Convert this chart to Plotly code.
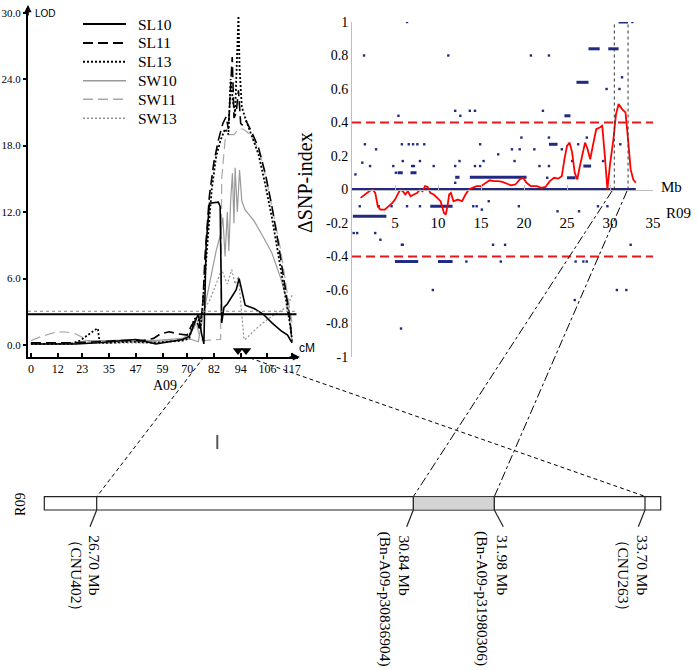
import plotly.graph_objects as go

# ---------------- data: LOD curves (cM, LOD) ----------------
sl10_cm = [0, 10, 20, 30, 40, 47, 52, 56, 62, 68, 71, 73, 75, 76.5, 77.5, 78.5, 80, 84, 84.8, 85.5, 86.5, 88, 90, 92, 93.3, 94.5, 96, 100, 104, 108, 112, 115, 117]
sl10_lod = [0.1, 0.1, 0.1, 0.2, 0.4, 0.5, 0.3, 0.1, 0.3, 0.5, 0.8, 1.8, 2.8, 1.0, 0.1, 9.0, 12.8, 12.9, 12.5, 2.0, 3.4, 3.7, 4.4, 5.0, 6.0, 4.8, 3.6, 3.3, 2.8, 2.0, 1.3, 0.9, 0.2]

sl11_cm = [0, 10, 20, 30, 40, 50, 55, 58, 62, 66, 70, 72, 74, 75.5, 77, 78, 80, 82, 84, 86, 87.5, 88.5, 89.5, 90.2, 91, 92, 93, 94, 95, 96.5, 99, 102, 105, 108, 111, 114, 116, 117]
sl11_lod = [0.2, 0.2, 0.2, 0.3, 0.4, 0.4, 0.6, 1.0, 1.2, 1.0, 0.9, 1.8, 2.3, 1.5, 3.5, 8.0, 13.5, 16.5, 18.5, 20.0, 20.6, 19.5, 23.0, 26.0, 20.5, 21.0, 23.0, 20.0, 19.8, 20.2, 19.2, 17.8, 15.5, 12.5, 9.0, 5.0, 2.5, 0.3]

sl13_cm = [0, 10, 18, 22, 26, 29, 30, 30.8, 35, 45, 55, 62, 68, 71, 73, 75, 76, 77, 79, 81, 83, 85, 87, 88.5, 89.5, 90.5, 91.5, 92.5, 93, 93.5, 94.5, 96, 99, 102, 105, 108, 111, 114, 116, 117]
sl13_lod = [0.1, 0.1, 0.1, 0.4, 1.0, 1.4, 1.5, 0.2, 0.2, 0.3, 0.2, 0.3, 0.4, 0.6, 2.3, 2.6, 1.5, 3.8, 9.0, 14.0, 17.0, 18.5, 19.5, 19.0, 24.0, 22.0, 21.0, 26.0, 29.7, 25.0, 21.5, 20.5, 18.8, 17.2, 14.5, 11.5, 8.0, 4.5, 2.0, 0.5]

sw10_cm = [0, 10, 20, 25, 35, 45, 55, 62, 68, 72, 75, 77, 79, 81, 83, 85, 86, 87, 88, 88.7, 89.5, 90.3, 91, 91.5, 92.5, 93.5, 94.5, 96, 100, 104, 108, 112, 115, 117]
sw10_lod = [0.1, 0.1, 0.2, 0.4, 0.4, 0.5, 0.4, 0.5, 0.6, 0.5, 0.3, 2.5, 4.5, 6.5, 8.5, 10.0, 11.5, 8.0, 12.0, 8.5, 13.0, 15.5, 11.0, 16.0, 12.0, 15.8, 13.0, 12.2, 11.2, 9.8, 8.3, 6.0, 3.8, 0.5]

sw11_cm = [0, 5, 10, 15, 20, 24, 27, 35, 45, 55, 62, 68, 72, 74, 76, 78, 80, 82, 84, 85, 85.5, 87, 89, 91, 93, 95, 97, 100, 103, 106, 109, 112, 115, 117]
sw11_lod = [0.4, 0.8, 1.1, 1.2, 1.0, 0.6, 0.2, 0.2, 0.3, 0.3, 0.4, 0.6, 1.2, 2.0, 0.5, 0.4, 0.45, 0.5, 0.5, 0.5, 15.0, 18.5, 19.0, 19.0, 19.5, 19.5, 19.2, 18.5, 17.0, 14.5, 11.5, 8.5, 4.5, 2.0]

sw13_cm = [0, 10, 20, 30, 40, 50, 60, 66, 70, 73, 75, 77, 78.5, 80, 82, 84, 85.5, 87, 88, 90, 91.5, 93, 94, 95.5, 96, 100, 104, 108, 112, 115, 117]
sw13_lod = [0.1, 0.1, 0.1, 0.2, 0.2, 0.2, 0.3, 0.4, 0.6, 1.5, 2.3, 3.0, 3.5, 4.0, 5.0, 6.0, 6.8, 6.0, 5.5, 6.8, 5.5, 6.2, 4.0, 0.5, 0.5, 1.3, 2.0, 2.6, 3.1, 3.5, 4.5]

series_names = ["SW13", "SW11", "SW10", "SL13", "SL11", "SL10"]
series_data = {
    "SL10": (sl10_cm, sl10_lod), "SL11": (sl11_cm, sl11_lod), "SL13": (sl13_cm, sl13_lod),
    "SW10": (sw10_cm, sw10_lod), "SW11": (sw11_cm, sw11_lod), "SW13": (sw13_cm, sw13_lod),
}
legend_order = ["SL10", "SL11", "SL13", "SW10", "SW11", "SW13"]

lod_thresholds = [3.05, 2.77]
marker_cm = [92.8, 96.4]
cm_tickvals = [0, 12, 23, 35, 47, 59, 70, 82, 94, 106, 117]
cm_ticktext = ["0", "12", "23", "35", "47", "59", "70", "82", "94", "106", "117"]
lod_tickvals = [0, 6, 12, 18, 24, 30]
lod_ticktext = ["0.0", "6.0", "12.0", "18.0", "24.0", "30.0"]

# ---------------- data: delta SNP-index ----------------
snp_window_mb = [1.0, 1.5, 2.0, 2.4, 2.7, 3.0, 3.3, 3.8, 4.3, 4.7, 5.0, 5.3, 5.6, 5.9, 6.2, 6.5, 6.8, 7.2, 7.6, 7.9, 8.2, 8.5, 8.8, 9.1, 9.5, 9.9, 10.3, 10.7, 10.9, 11.1, 11.3, 11.5, 11.8, 12.3, 12.8, 13.2, 13.6, 14.0, 14.5, 15.0, 15.5, 16.0, 16.5, 17.0, 17.5, 18.0, 18.5, 19.0, 19.5, 19.9, 20.3, 20.8, 21.5, 22.0, 22.5, 23.0, 23.5, 24.0, 24.4, 24.7, 25.0, 25.3, 25.6, 25.9, 26.2, 26.5, 26.8, 27.1, 27.4, 27.7, 28.0, 28.4, 28.8, 29.1, 29.4, 29.7, 30.0, 30.4, 30.7, 31.0, 31.4, 31.8, 32.1, 32.4, 32.7, 33.0]
snp_window_val = [-0.05, -0.03, -0.01, 0.0, -0.02, -0.10, -0.12, -0.12, -0.10, -0.08, -0.06, -0.03, 0.0, -0.01, -0.03, -0.01, -0.04, -0.03, -0.02, 0.0, -0.01, 0.02, 0.015, -0.02, -0.03, -0.05, -0.07, -0.14, -0.15, -0.10, -0.03, -0.02, -0.07, -0.06, -0.07, -0.03, 0.0, 0.01, 0.02, 0.02, 0.04, 0.055, 0.05, 0.05, 0.045, 0.035, 0.025, 0.03, 0.06, 0.07, 0.04, 0.02, 0.02, 0.01, 0.015, 0.05, 0.07, 0.065, 0.08, 0.18, 0.26, 0.28, 0.22, 0.10, 0.06, 0.14, 0.22, 0.28, 0.24, 0.18, 0.26, 0.36, 0.37, 0.38, 0.20, 0.0, 0.15, 0.30, 0.45, 0.51, 0.48, 0.46, 0.30, 0.12, 0.06, 0.04]

snp_mb = [6.4, 1.4, 11.2, 20.8, 22.9, 29.6, 31.1, 31.4, 5.4, 12.0, 12.6, 13.7, 14.3, 22.2, 32.6,
          0.4, 1.2, 1.5, 2.1, 2.8, 4.8, 5.1, 5.9, 5.8, 6.6, 7.1, 7.6, 8.4, 7.0, 7.2, 7.9, 9.5, 12.0, 12.5, 12.0, 14.3, 14.9, 14.9, 15.3, 17.0, 18.6, 18.9, 19.7, 19.5, 21.2, 22.9, 21.8, 22.9, 22.7, 24.4, 25.6, 26.3, 27.3, 29.2, 31.2,
          0.9, 3.1, 4.6, 6.4, 7.9, 14.1, 14.5, 0.2, 0.6, 2.7, 3.3, 5.8, 5.9, 13.3, 9.4, 5.7, 15.1, 16.4, 17.8, 17.3, 19.4, 23.9, 26.4, 26.0, 26.9, 27.3, 25.9, 30.8, 31.9, 32.4, 28.6, 29.7, 15.9]
snp_val = [1.0, 0.8, 0.8, 0.8, 0.8, 0.6, 0.6, 0.67, 0.44, 0.47, 0.44, 0.47, 0.47, 0.47, 1.0,
           0.09, 0.16, 0.27, 0.14, 0.24, 0.14, 0.10, 0.17, 0.27, 0.27, 0.27, 0.27, 0.27, 0.14, 0.14, 0.17, 0.14, 0.14, 0.17, 0.04, 0.14, 0.14, 0.27, 0.17, 0.21, 0.24, 0.17, 0.31, 0.24, 0.24, 0.31, 0.14, 0.14, 0.07, 0.24, 0.17, 0.27, 0.31, 0.17, 0.27,
           -0.10, -0.10, -0.10, -0.10, -0.10, -0.10, -0.10, -0.26, -0.26, -0.26, -0.30, -0.33, -0.33, -0.43, -0.60, -0.83, -0.12, -0.33, -0.33, -0.43, -0.10, -0.13, -0.13, -0.43, -0.43, -0.43, -0.66, -0.60, -0.60, -0.33, -0.10, -0.10, -0.07]

# runs of SNPs sharing the same index value (start Mb, end Mb, value)
run_start = [0.0, 0.1, 12.0, 13.7, 5.3, 6.8, 24.7, 26.1, 27.5, 29.8, 31.0, 22.9, 25.0, 26.9, 9.1, 5.0, 10.0]
run_end = [33.0, 4.0, 12.5, 20.3, 5.9, 7.5, 25.4, 27.5, 28.8, 31.0, 32.1, 23.9, 26.0, 27.8, 11.7, 7.7, 11.7]
run_val = [0.0, -0.16, 0.073, 0.073, 0.10, 0.10, 0.44, 0.64, 0.84, 0.84, 1.0, 0.27, 0.07, 0.14, -0.10, -0.43, -0.43]

snp_thresholds = [0.4, -0.4]
candidate_mb = [30.5, 32.1]
mb_tickvals = [5, 10, 15, 20, 25, 30, 35]
idx_tickvals = [1, 0.8, 0.6, 0.4, 0.2, 0, -0.2, -0.4, -0.6, -0.8, -1]
idx_ticktext = ["1", "0.8", "0.6", "0.4", "0.2", "0", "-0.2", "-0.4", "-0.6", "-0.8", "-1"]

# ---------------- data: physical map labels ----------------
bar_pos_labels = ["26.70 Mb", "30.84 Mb", "31.98 Mb", "33.70 Mb"]
bar_marker_labels = ["（CNU402）", "(Bn-A09-p30836904)", "(Bn-A09-p31980306)", "（CNU263）"]

# ---------------- figure ----------------
W, H = 697, 670
def px(x):
    return x / W
def py(y):
    return 1 - y / H

SERIF = "Liberation Serif"
SANS = "Liberation Sans"
BLUE = "#1f2a80"

styles = {
    "SL10": dict(color="#000000", width=1.6, dash="solid"),
    "SL11": dict(color="#000000", width=1.6, dash="10px,5px"),
    "SL13": dict(color="#000000", width=1.8, dash="2px,2px"),
    "SW10": dict(color="#9a9a9a", width=1.2, dash="solid"),
    "SW11": dict(color="#a8a8a8", width=1.2, dash="10px,5px"),
    "SW13": dict(color="#909090", width=1.2, dash="2px,2px"),
}

fig = go.Figure()

for name in series_names:
    xs, ys = series_data[name]
    fig.add_trace(go.Scatter(x=xs, y=ys, mode="lines", name=name, line=styles[name],
                             xaxis="x", yaxis="y", showlegend=False))

fig.add_trace(go.Scatter(x=marker_cm, y=[-0.5] * len(marker_cm), mode="markers",
                         marker=dict(symbol="triangle-down", size=9, color="black"),
                         xaxis="x", yaxis="y", showlegend=False))

# SNP index dots
fig.add_trace(go.Scatter(x=snp_mb, y=snp_val, mode="markers",
                         marker=dict(symbol="square", size=2.4, color=BLUE),
                         xaxis="x2", yaxis="y2", showlegend=False))
run_x, run_y = [], []
for a, b, v in zip(run_start, run_end, run_val):
    run_x += [a, b, None]
    run_y += [v, v, None]
fig.add_trace(go.Scatter(x=run_x, y=run_y, mode="lines", line=dict(color=BLUE, width=3),
                         xaxis="x2", yaxis="y2", showlegend=False))
fig.add_trace(go.Scatter(x=snp_window_mb, y=snp_window_val, mode="lines",
                         line=dict(color="#ff0000", width=1.8),
                         xaxis="x2", yaxis="y2", showlegend=False))

shapes = []
# LOD thresholds
shapes.append(dict(type="line", xref="x", yref="y", x0=-1.3, x1=119, y0=lod_thresholds[0], y1=lod_thresholds[0],
                   line=dict(color="#888888", width=1.2, dash="dot")))
shapes.append(dict(type="line", xref="x", yref="y", x0=-1.3, x1=119, y0=lod_thresholds[1], y1=lod_thresholds[1],
                   line=dict(color="#000000", width=2)))
# SNP thresholds
for t in snp_thresholds:
    shapes.append(dict(type="line", xref="x2", yref="y2", x0=0, x1=35, y0=t, y1=t,
                       line=dict(color="#e8171b", width=2, dash="9px,5px")))
for c in candidate_mb:
    shapes.append(dict(type="line", xref="x2", yref="y2", x0=c, x1=c, y0=0, y1=1.01,
                       line=dict(color="#333333", width=1, dash="dot")))

def pline(x0, y0, x1, y1, dash="solid", width=1, color="black"):
    shapes.append(dict(type="line", xref="paper", yref="paper", x0=px(x0), y0=py(y0), x1=px(x1), y1=py(y1),
                       line=dict(color=color, width=width, dash=dash)))

# legend samples
leg_y = [24, 43, 61.7, 80.7, 99.3, 118.3]
for name, yy in zip(legend_order, leg_y):
    st = styles[name]
    pline(83, yy, 126, yy, dash=st["dash"], width=st["width"] + 0.3, color=st["color"])

# connectors
pline(204, 357, 96.7, 496.7, dash="4px,3px")
pline(250, 358, 644, 496, dash="4px,3px")
pline(612, 191, 413.3, 496.7, dash="dashdot")
pline(627, 191, 494.3, 496.7, dash="dashdot")

# chromosome bar
shapes.append(dict(type="rect", xref="paper", yref="paper", x0=px(44.3), x1=px(660.7), y0=py(510), y1=py(496.7),
                   line=dict(color="#222222", width=1.2), fillcolor="white"))
shapes.append(dict(type="rect", xref="paper", yref="paper", x0=px(413.3), x1=px(494.3), y0=py(510), y1=py(496.7),
                   line=dict(color="#222222", width=0.5), fillcolor="#d4d4d4"))
bar_x = [96.7, 413.3, 494.3, 645]
leader_end = [90, 406.7, 503.3, 638.3]
for bx, le in zip(bar_x, leader_end):
    pline(bx, 496.7, bx, 510, width=1.2, color="#222222")
    pline(bx, 510, le, 526.7, width=1.2, color="#222222")
# small mark
pline(217.3, 435, 217.3, 449, width=2, color="#555555")

annotations = []
def ann(text, x, y, size=14, family=SERIF, xanchor="center", yanchor="middle", angle=0, color="black"):
    annotations.append(dict(text=text, x=px(x), y=py(y), xref="paper", yref="paper", showarrow=False,
                            xanchor=xanchor, yanchor=yanchor, textangle=angle,
                            font=dict(family=family, size=size, color=color)))

for name, yy in zip(legend_order, leg_y):
    ann(name, 136, yy, size=15.5, xanchor="left")

ann("LOD", 33, 13, size=10, family=SANS, xanchor="left")
ann("cM", 297, 348, size=12, family=SANS, xanchor="left")
ann("A09", 165, 385, size=14)
ann("Mb", 659, 187, size=15, xanchor="left")
ann("R09", 664, 213, size=15, xanchor="left")
ann("ΔSNP-index", 305, 183, size=20, angle=-90)
ann("R09", 21, 505, size=14, angle=-90)

pos_x = [94.3, 404, 502.5, 642.5]
mk_x = [76.5, 385, 482.5, 623.5]
for lab, xx in zip(bar_pos_labels, pos_x):
    ann(lab, xx, 533, size=15.5, yanchor="top", angle=90)
for lab, xx in zip(bar_marker_labels, mk_x):
    ann(lab, xx, 529, size=15.5, yanchor="top", angle=90)

# axis arrows
annotations.append(dict(x=px(28), y=py(5), xref="paper", yref="paper", ax=0, ay=12, text="",
                        showarrow=True, arrowhead=2, arrowsize=0.9, arrowwidth=1.6, arrowcolor="black"))
annotations.append(dict(x=px(300), y=py(357), xref="paper", yref="paper", ax=-12, ay=0, text="",
                        showarrow=True, arrowhead=2, arrowsize=0.9, arrowwidth=1.6, arrowcolor="black"))

fig.update_layout(
    template="none",
    width=W, height=H, margin=dict(l=0, r=0, t=0, b=0, pad=0), autosize=False,
    paper_bgcolor="white", plot_bgcolor="rgba(0,0,0,0)", showlegend=False,
    shapes=shapes, annotations=annotations,
    xaxis=dict(domain=[px(28), px(297.6)], range=[-1.3, 119.5], anchor="y", automargin=False,
               showline=True, linewidth=2, linecolor="black", ticks="inside", ticklen=4, tickwidth=1.5,
               tickcolor="black",
               tickvals=cm_tickvals, ticktext=cm_ticktext, tickfont=dict(family=SERIF, size=12, color="black"),
               showgrid=False, zeroline=False),
    yaxis=dict(domain=[py(357), py(8)], range=[-1.08, 30.42], anchor="x", automargin=False,
               showline=True, linewidth=2, linecolor="black", ticks="outside", ticklen=3, tickwidth=1.5,
               tickcolor="black",
               tickvals=lod_tickvals, ticktext=lod_ticktext, tickfont=dict(family=SERIF, size=11, color="black"),
               showgrid=False, zeroline=False),
    xaxis2=dict(domain=[px(352), px(653)], range=[0, 35], anchor="free", position=py(189.5), automargin=False,
                showline=True, linewidth=1, linecolor="#bdbdbd", ticks="inside", ticklen=5, tickcolor="#bdbdbd",
                tickvals=mb_tickvals, tickfont=dict(family=SERIF, size=15, color="black"),
                ticklabelstandoff=19, showgrid=False, zeroline=False),
    yaxis2=dict(domain=[py(357), py(22)], range=[-1, 1], anchor="x2", automargin=False,
                showline=True, linewidth=1, linecolor="#bdbdbd", ticks="",
                tickvals=idx_tickvals, ticktext=idx_ticktext, tickfont=dict(family=SERIF, size=14, color="black"),
                showgrid=False, zeroline=False),
)

fig.write_html("out.html", config={"displayModeBar": False},
               post_script="document.body.style.margin='0';document.body.style.overflow='hidden';")
